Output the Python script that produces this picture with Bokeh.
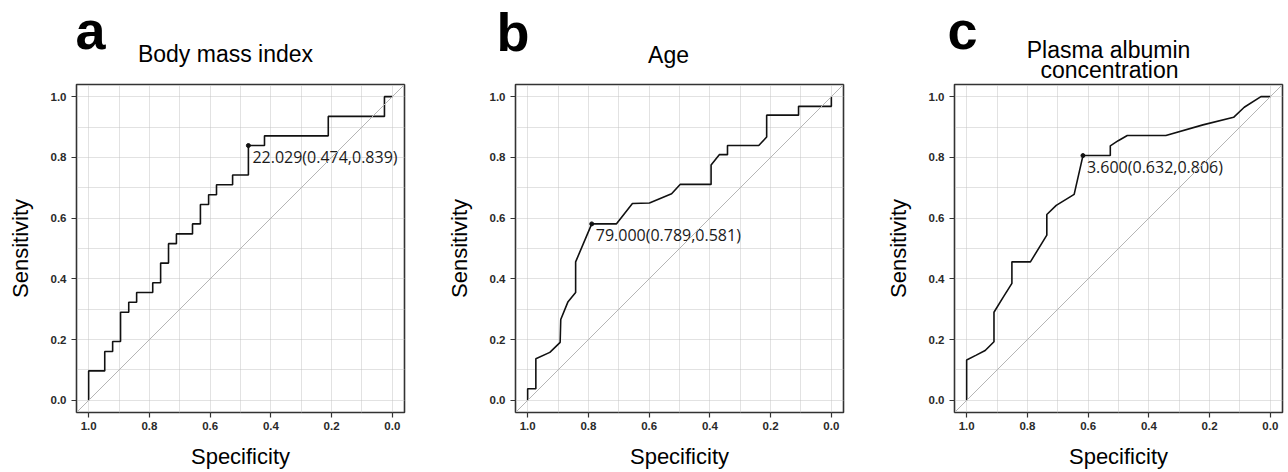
from bokeh.plotting import figure
from bokeh.layouts import row, column
from bokeh.models import Range1d, FixedTicker, Slope, PrintfTickFormatter
from bokeh.embed import file_html
from bokeh.resources import INLINE
from bokeh.core.properties import value

# ---------------- data ----------------
panel_letters = ["a", "b", "c"]
panel_titles = [["Body mass index"], ["Age"], ["Plasma albumin", "concentration"]]

spec_bmi = [1.0, 1.0, 0.947, 0.947, 0.921, 0.921, 0.895, 0.895, 0.868, 0.868,
            0.842, 0.842, 0.789, 0.789, 0.763, 0.763, 0.737, 0.737, 0.711, 0.711,
            0.658, 0.658, 0.632, 0.632, 0.605, 0.605, 0.579, 0.579, 0.526, 0.526,
            0.474, 0.474, 0.421, 0.421, 0.211, 0.211, 0.026, 0.026, 0.0]
sens_bmi = [0.0, 0.097, 0.097, 0.161, 0.161, 0.194, 0.194, 0.290, 0.290, 0.323,
            0.323, 0.355, 0.355, 0.387, 0.387, 0.452, 0.452, 0.516, 0.516, 0.548,
            0.548, 0.581, 0.581, 0.645, 0.645, 0.677, 0.677, 0.710, 0.710, 0.742,
            0.742, 0.839, 0.839, 0.871, 0.871, 0.935, 0.935, 1.0, 1.0]

spec_age = [1.0, 1.0, 0.973, 0.973, 0.927, 0.893, 0.891, 0.867, 0.842, 0.842,
            0.789, 0.708, 0.655, 0.599, 0.526, 0.498, 0.396, 0.396, 0.369, 0.342,
            0.342, 0.239, 0.213, 0.213, 0.108, 0.108, 0.0, 0.0]
sens_age = [0.0, 0.038, 0.038, 0.137, 0.158, 0.191, 0.266, 0.325, 0.355, 0.456,
            0.581, 0.581, 0.648, 0.650, 0.680, 0.711, 0.711, 0.775, 0.809, 0.809,
            0.839, 0.839, 0.867, 0.939, 0.939, 0.968, 0.968, 1.0]

spec_alb = [1.0, 1.0, 0.970, 0.939, 0.910, 0.910, 0.880, 0.851, 0.851, 0.790,
            0.736, 0.736, 0.705, 0.646, 0.617, 0.527, 0.527, 0.501, 0.471, 0.344,
            0.222, 0.121, 0.086, 0.031, 0.0]
sens_alb = [0.0, 0.133, 0.148, 0.164, 0.193, 0.290, 0.339, 0.385, 0.456, 0.456,
            0.544, 0.612, 0.642, 0.678, 0.806, 0.806, 0.838, 0.855, 0.872, 0.872,
            0.907, 0.932, 0.965, 1.0, 1.0]

cut_spec = [0.474, 0.789, 0.617]
cut_sens = [0.839, 0.581, 0.806]
cut_text = ["22.029(0.474,0.839)", "79.000(0.789,0.581)", "3.600(0.632,0.806)"]

major_ticks = [0.0, 0.2, 0.4, 0.6, 0.8, 1.0]
minor_ticks = [0.1, 0.3, 0.5, 0.7, 0.9]

curves = [(spec_bmi, sens_bmi), (spec_age, sens_age), (spec_alb, sens_alb)]

# ---------------- layout / style ----------------
HEADER_H = 82
FRAME = 328
left_b = [76, 76, 76]
right_b = [35, 35, 6]
# header text anchors in header pixels (x from figure left, y from top)
letter_xy = [(75, 29), (57, 31), (69, 29)]
title_xy = [[(225, 53)], [(229, 54)], [(230, 49), (231, 69)]]

columns = []
for i in range(3):
    W = left_b[i] + FRAME + right_b[i]

    # header: panel letter and title
    h = figure(width=W, height=HEADER_H, x_range=Range1d(0, W),
               y_range=Range1d(HEADER_H, 0), output_backend="svg",
               toolbar_location=None, x_axis_type=None, y_axis_type=None,
               min_border=0, outline_line_color=None, frame_align=False)
    h.xgrid.visible = False
    h.ygrid.visible = False
    lx, ly = letter_xy[i]
    h.text([lx], [ly], text=[panel_letters[i]], text_font=value("Liberation Sans"),
           text_font_size="54px", text_font_style="bold", text_color="#000000",
           text_align="left", text_baseline="alphabetic")
    tx = [xy[0] for xy in title_xy[i]]
    ty = [xy[1] for xy in title_xy[i]]
    h.text(tx, ty, text=panel_titles[i], text_font=value("Liberation Sans"),
           text_font_size="23px", text_color="#000000",
           text_align="center", text_baseline="alphabetic")

    # main ROC plot
    p = figure(frame_width=FRAME, frame_height=FRAME,
               x_range=Range1d(1.04, -0.04), y_range=Range1d(-0.04, 1.04),
               output_backend="svg", toolbar_location=None,
               min_border_left=left_b[i], min_border_right=right_b[i],
               min_border_top=2, min_border_bottom=60, frame_align=False,
               background_fill_color="white", border_fill_color="white")
    p.outline_line_color = "#333333"
    p.outline_line_width = 1.6
    p.outline_line_alpha = 1.0

    for ax in (p.xaxis[0], p.yaxis[0]):
        ax.ticker = FixedTicker(ticks=major_ticks, minor_ticks=minor_ticks)
        ax.formatter = PrintfTickFormatter(format="%.1f")
        ax.axis_line_color = None
        ax.major_tick_in = 0
        ax.major_tick_out = 5
        ax.major_tick_line_color = "#333333"
        ax.major_tick_line_width = 1.2
        ax.minor_tick_line_color = None
        ax.major_label_text_font = "Liberation Sans"
        ax.major_label_text_font_size = "11.5px"
        ax.major_label_text_font_style = "bold"
        ax.major_label_text_color = "#2a2a2a"
        ax.axis_label_text_font = "Liberation Sans"
        ax.axis_label_text_font_size = "22px"
        ax.axis_label_text_font_style = "normal"
        ax.axis_label_text_color = "#000000"
    p.xaxis[0].axis_label = "Specificity"
    p.yaxis[0].axis_label = "Sensitivity"
    p.xaxis[0].major_label_standoff = 4
    p.yaxis[0].major_label_standoff = 5
    p.xaxis[0].axis_label_standoff = 11
    p.yaxis[0].axis_label_standoff = 15

    for g in (p.xgrid[0], p.ygrid[0]):
        g.ticker = FixedTicker(ticks=major_ticks, minor_ticks=minor_ticks)
        g.grid_line_color = "#c4c4c4"
        g.grid_line_dash = "1 1"
        g.grid_line_width = 1
        g.minor_grid_line_color = "#c4c4c4"
        g.minor_grid_line_dash = "1 1"
        g.minor_grid_line_width = 1

    p.add_layout(Slope(gradient=-1, y_intercept=1, line_color="#b5b5b5", line_width=1))

    xs, ys = curves[i]
    p.line(xs, ys, line_color="#111111", line_width=1.6)
    p.scatter([cut_spec[i]], [cut_sens[i]], size=4, color="#111111")
    p.text([cut_spec[i]], [cut_sens[i]], text=[cut_text[i]],
           text_font=value("Open Sans"), text_font_size="16px",
           text_color="#1a1a1a", text_align="left", text_baseline="alphabetic",
           x_offset=4, y_offset=11)

    columns.append(column(h, p, spacing=0))

layout = row(*columns, spacing=0)
open("out.html", "w").write(file_html(layout, INLINE))
